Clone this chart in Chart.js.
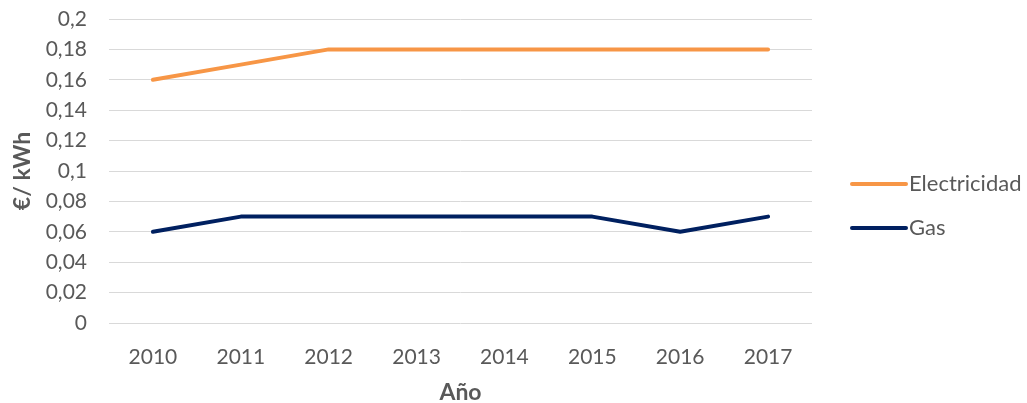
<!DOCTYPE html>
<html>
<head>
<meta charset="utf-8">
<script src="https://cdn.jsdelivr.net/npm/chart.js@4"></script>
<style>
  html, body { margin: 0; padding: 0; background: #fff; }
  #wrap { width: 1027px; height: 403px; }
</style>
</head>
<body>
<div id="wrap"><canvas id="chart" width="1027" height="403"></canvas></div>
<script>
const years = ['2010', '2011', '2012', '2013', '2014', '2015', '2016', '2017'];
const electricidad = [0.16, 0.17, 0.18, 0.18, 0.18, 0.18, 0.18, 0.18];
const gas = [0.06, 0.07, 0.07, 0.07, 0.07, 0.07, 0.06, 0.07];
const seriesNames = ['Electricidad', 'Gas'];
const seriesColors = ['#f79646', '#002060'];

const FONT = 'Lato, "Open Sans", sans-serif';
const TEXT = '#595959';

// legend drawn on the right, like the spreadsheet one
const sideLegend = {
  id: 'sideLegend',
  afterDraw(chart) {
    const ctx = chart.ctx;
    const sets = chart.data.datasets;
    const x0 = chart.chartArea.right + 40;
    const mid = (chart.chartArea.top + chart.chartArea.bottom) / 2 + 35;
    const gap = 44;
    ctx.save();
    ctx.font = '22px ' + FONT;
    ctx.textBaseline = 'middle';
    sets.forEach((ds, i) => {
      const y = mid + (i - (sets.length - 1) / 2) * gap;
      ctx.strokeStyle = ds.borderColor;
      ctx.lineWidth = 4;
      ctx.lineCap = 'round';
      ctx.beginPath();
      ctx.moveTo(x0, y);
      ctx.lineTo(x0 + 54, y);
      ctx.stroke();
      ctx.fillStyle = TEXT;
      ctx.fillText(ds.label, x0 + 57, y);
    });
    ctx.restore();
  }
};

new Chart(document.getElementById('chart').getContext('2d'), {
  type: 'line',
  data: {
    labels: years,
    datasets: [
      { label: seriesNames[0], data: electricidad, borderColor: seriesColors[0], backgroundColor: seriesColors[0] },
      { label: seriesNames[1], data: gas, borderColor: seriesColors[1], backgroundColor: seriesColors[1] },
    ],
  },
  options: {
    responsive: false,
    animation: false,
    layout: { padding: { top: 19, right: 215, left: 0, bottom: 0 } },
    elements: {
      line: { borderWidth: 4, tension: 0, borderCapStyle: 'round', borderJoinStyle: 'round' },
      point: { radius: 0, hoverRadius: 0 },
    },
    plugins: {
      legend: { display: false },
      tooltip: { enabled: false },
    },
    scales: {
      x: {
        offset: true,
        grid: { display: false },
        border: { display: false },
        ticks: { color: TEXT, font: { family: FONT, size: 21 }, padding: 14, maxRotation: 0 },
        title: { display: true, text: 'Año', color: TEXT, font: { family: FONT, size: 23, weight: 'bold' }, padding: { top: 4, bottom: -3 } },
        afterFit: s => { s.height = 80; s.paddingLeft = 0; s.paddingRight = 0; },
      },
      y: {
        min: 0,
        max: 0.2,
        grid: { color: '#d9d9d9', lineWidth: 1, drawTicks: false },
        border: { display: false },
        ticks: {
          stepSize: 0.02,
          color: TEXT,
          font: { family: FONT, size: 21 },
          padding: 22,
          callback: v => String(Math.round(v * 100) / 100).replace('.', ','),
        },
        title: { display: true, text: '€/ kWh', color: TEXT, font: { family: FONT, size: 23, weight: 'bold' }, padding: { top: 9, bottom: 0 } },
        afterFit: s => { s.width = 109; s.paddingTop = 0; s.paddingBottom = 0; },
      },
    },
  },
  plugins: [sideLegend],
});
</script>
</body>
</html>
